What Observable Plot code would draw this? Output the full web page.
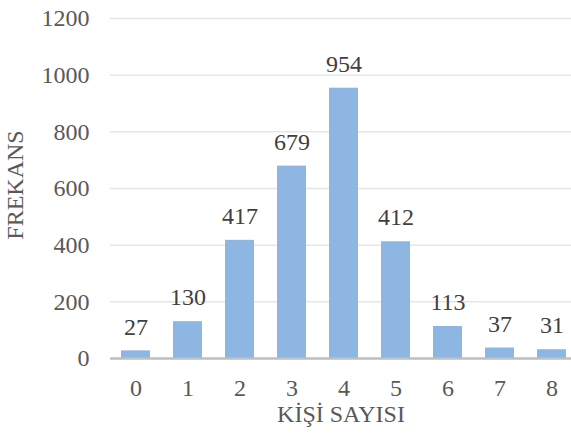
<!DOCTYPE html>
<html>
<head>
<meta charset="utf-8">
<script src="https://cdn.jsdelivr.net/npm/d3@7"></script>
<script src="https://cdn.jsdelivr.net/npm/@observablehq/plot@0.6"></script>
<style>
  html, body { margin: 0; padding: 0; background: #fff; }
  #chart { width: 571px; height: 436px; overflow: hidden; }
</style>
</head>
<body>
<div id="chart"></div>
<script>
// Number of people (KİŞİ SAYISI) and observed frequency (FREKANS)
const categories = ["0", "1", "2", "3", "4", "5", "6", "7", "8"];
const frequencies = [27, 130, 417, 679, 954, 412, 113, 37, 31];
const yTicks = [0, 200, 400, 600, 800, 1000, 1200];

const data = categories.map((c, i) => ({ k: c, f: frequencies[i] }));

const font = "'Liberation Serif', 'Times New Roman', serif";
const fs = 24;

const chart = Plot.plot({
  width: 571,
  height: 436,
  marginTop: 18,
  marginBottom: 78,
  marginLeft: 110,
  marginRight: -7,
  style: { fontFamily: font, fontSize: fs + "px", color: "#595959", background: "#fff", overflow: "visible" },
  x: { domain: categories, paddingInner: 0.44, paddingOuter: 0.22, label: null },
  y: { domain: [0, 1200], ticks: yTicks, label: null },
  marks: [
    Plot.gridY(yTicks, { stroke: "#e6e6e6", strokeOpacity: 1, strokeWidth: 1.5 }),
    Plot.barY(data, { x: "k", y: "f", fill: "#8db7e2" }),
    Plot.ruleY([0], { stroke: "#bfbfbf", strokeWidth: 2.5 }),
    Plot.text(data, { x: "k", y: "f", text: d => String(d.f), dy: -24, fill: "#404040", fontSize: fs }),
    Plot.axisY(yTicks, { tickSize: 0, tickPadding: 21, tickFormat: d => String(d), fill: "#595959", fontSize: fs, label: null }),
    Plot.axisX({ tickSize: 0, tickPadding: 20, fill: "#595959", fontSize: fs, label: null })
  ]
});

const svg = d3.select(chart);
const addTitle = (transform, label) => svg.append("text")
  .attr("transform", transform)
  .attr("text-anchor", "middle")
  .attr("dominant-baseline", "middle")
  .attr("fill", "#595959")
  .attr("font-size", fs)
  .attr("font-family", font)
  .text(label);

// axis titles
addTitle("translate(17,185) rotate(-90)", "FREKANS");
addTitle("translate(341,416)", "KİŞİ SAYISI");

document.getElementById("chart").appendChild(chart);
</script>
</body>
</html>
